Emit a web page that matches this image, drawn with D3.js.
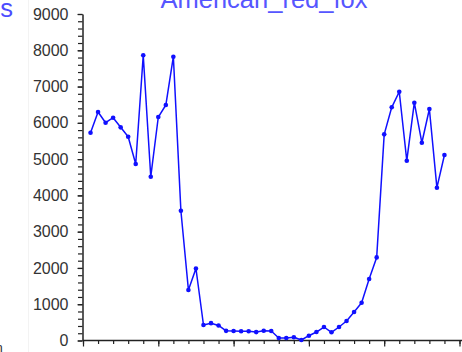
<!DOCTYPE html>
<html>
<head>
<meta charset="utf-8">
<script src="https://cdn.jsdelivr.net/npm/d3@7"></script>
<style>
  html, body { margin: 0; padding: 0; background: #fff; overflow: hidden; }
  svg { display: block; font-family: "Liberation Sans", Arial, sans-serif; }
</style>
</head>
<body>
<svg id="chart" width="462" height="352"></svg>
<script>
// ---- data (year index within the plotted window, population) ----
const years = d3.range(1, 49);
const foxValues = [
  5728, 6298, 6003, 6141, 5876, 5617, 4865, 7861, 4515, 6160,
  6491, 7823, 3578, 1392, 1985, 427, 478, 415, 266, 262,
  254, 254, 232, 270, 260, 69, 69, 88, 14, 132,
  234, 372, 226, 372, 537, 786, 1042, 1695, 2290, 5683,
  6428, 6858, 4956, 6555, 5452, 6381, 4212, 5113
];
const yTickValues = [0, 1000, 2000, 3000, 4000, 5000, 6000, 7000, 8000, 9000];
const titleText = "American_red_fox";

const svg = d3.select("#chart");

// faint panel boundary on the left
svg.append("line")
  .attr("x1", 28.5).attr("x2", 28.5).attr("y1", 0).attr("y2", 352)
  .attr("stroke", "#f3f3f3").attr("stroke-width", 1);

const x = d3.scaleLinear().domain([0, 50]).range([83, 459.5]);
const y = d3.scaleLinear().domain([0, 9000]).range([340.5, 14]);

// Y axis: minor ticks every 200, labelled majors every 1000
const yMinor = svg.append("g").attr("transform", "translate(82.5,0)")
  .call(d3.axisLeft(y).tickValues(d3.range(0, 9001, 200)).tickSize(4.5).tickFormat(""));
yMinor.select(".domain").remove();
yMinor.selectAll("line").attr("stroke", "#222").attr("stroke-width", 1.2);

const yAxis = svg.append("g").attr("transform", "translate(82.5,0)")
  .call(d3.axisLeft(y).tickValues(yTickValues).tickSize(5).tickSizeOuter(0).tickPadding(9).tickFormat(d3.format("d")));
yAxis.select(".domain").attr("stroke", "#222").attr("stroke-width", 1.5);
yAxis.selectAll("line").attr("stroke", "#222").attr("stroke-width", 1.2);
yAxis.selectAll("text").attr("fill", "#333").attr("font-size", 16)
  .attr("font-family", "Liberation Sans, Arial, sans-serif");

// X axis: minor ticks every 2, majors every 10 (labels fall below the visible area)
const xMinor = svg.append("g").attr("transform", "translate(0,340.5)")
  .call(d3.axisBottom(x).tickValues(d3.range(0, 51, 2)).tickSize(3.5).tickFormat(""));
xMinor.select(".domain").remove();
xMinor.selectAll("line").attr("stroke", "#222").attr("stroke-width", 1.2);

const xAxis = svg.append("g").attr("transform", "translate(0,340.5)")
  .call(d3.axisBottom(x).tickValues(d3.range(0, 51, 10)).tickSize(6).tickSizeOuter(0).tickFormat(""));
xAxis.select(".domain").attr("stroke", "#222").attr("stroke-width", 1.5)
  .attr("d", "M" + x(0) + ",0H462");
xAxis.selectAll("line").attr("stroke", "#222").attr("stroke-width", 1.2);

// series line
const pts = years.map((yr, i) => [yr, foxValues[i]]);
svg.append("path")
  .datum(pts)
  .attr("fill", "none")
  .attr("stroke", "#1010ff")
  .attr("stroke-width", 1.5)
  .attr("stroke-linejoin", "round")
  .attr("d", d3.line().x(d => x(d[0])).y(d => y(d[1])));

svg.append("g").selectAll("circle")
  .data(pts).join("circle")
  .attr("cx", d => x(d[0]))
  .attr("cy", d => y(d[1]))
  .attr("r", 2.3)
  .attr("fill", "#1010ff");

// title (cropped at the top) and fragments of neighbouring text
svg.append("text")
  .attr("x", 264).attr("y", 8)
  .attr("text-anchor", "middle")
  .attr("font-size", 25.5)
  .attr("fill", "#5656ff")
  .text(titleText);

svg.append("text")
  .attr("x", 13).attr("y", 17)
  .attr("text-anchor", "end")
  .attr("font-size", 25.5)
  .attr("fill", "#4c4cff")
  .text("s");

svg.append("text")
  .attr("x", -4.5).attr("y", 352)
  .attr("font-size", 13)
  .attr("fill", "#333")
  .text("n");
</script>
</body>
</html>
